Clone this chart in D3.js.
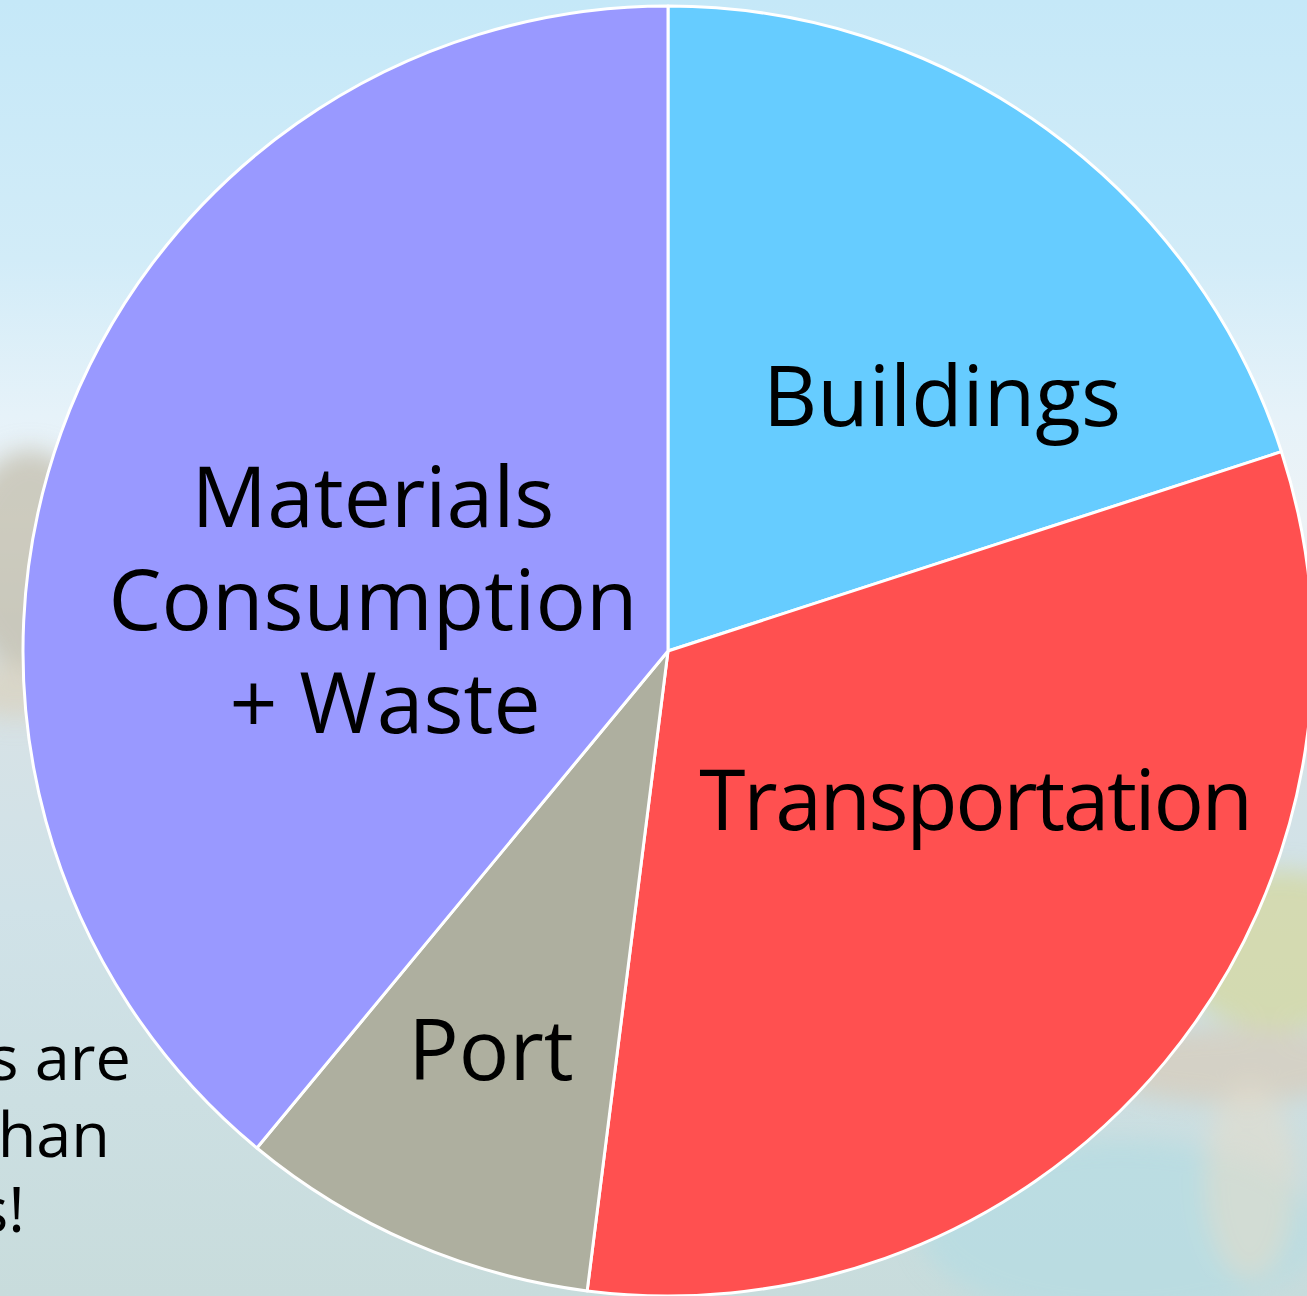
<!DOCTYPE html>
<html>
<head>
<meta charset="utf-8">
<script src="https://cdn.jsdelivr.net/npm/d3@7"></script>
<style>
html,body{margin:0;padding:0;overflow:hidden;}
svg{display:block;}
</style>
</head>
<body>
<svg id="chart" width="1307" height="1296"></svg>
<script>
const categories = ["Buildings", "Transportation", "Port", "Materials Consumption + Waste"];
const values = [20, 32, 9, 39];
const colors = ["#66CCFF", "#FF5050", "#AEAF9F", "#9999FF"];
const labelLines = [["Buildings"], ["Transportation"], ["Port"], ["Materials", "Consumption", "+ Waste"]];
const sideText = ["s are", "han", "s!"];

const W = 1307, H = 1296;
const svg = d3.select("#chart");
const defs = svg.append("defs");

// background: soft sky / city / water photo impression
const g1 = defs.append("linearGradient").attr("id","bg").attr("x1",0).attr("y1",0).attr("x2",0).attr("y2",1);
[[0,"#C5E8F8"],[0.2,"#D2ECF8"],[0.32,"#E6F2F9"],[0.4,"#EDF3F6"],[0.48,"#DCE6EA"],[0.56,"#D6E2E6"],[0.7,"#D0E2E8"],[1,"#C8DCDC"]]
  .forEach(([o,c]) => g1.append("stop").attr("offset",o).attr("stop-color",c));
svg.append("rect").attr("width",W).attr("height",H).attr("fill","url(#bg)");

const blur = defs.append("filter").attr("id","blur").attr("x","-50%").attr("y","-50%").attr("width","200%").attr("height","200%");
blur.append("feGaussianBlur").attr("stdDeviation",12);
const bgLayer = svg.append("g").attr("filter","url(#blur)");
// left city band
bgLayer.append("ellipse").attr("cx",30).attr("cy",560).attr("rx",70).attr("ry",110).attr("fill","#C4C0B0").attr("opacity",0.8);
bgLayer.append("ellipse").attr("cx",15).attr("cy",690).attr("rx",50).attr("ry",28).attr("fill","#D8D0BC").attr("opacity",0.7);
// right shore / green band
bgLayer.append("ellipse").attr("cx",1280).attr("cy",950).attr("rx",110).attr("ry",80).attr("fill","#D4D8A4").attr("opacity",0.8);
bgLayer.append("ellipse").attr("cx",1230).attr("cy",1065).attr("rx",140).attr("ry",38).attr("fill","#D6CDBE").attr("opacity",0.8);
// water on right bottom
bgLayer.append("ellipse").attr("cx",1120).attr("cy",1230).attr("rx",200).attr("ry",90).attr("fill","#B6DCE2").attr("opacity",0.8);
bgLayer.append("ellipse").attr("cx",1250).attr("cy",1180).attr("rx",45).attr("ry",100).attr("fill","#E2DCCC").attr("opacity",0.6);

const cx = 668, cy = 651, R = 645;
const pie = d3.pie().sort(null).value(d => d.value).startAngle(0).endAngle(2*Math.PI);
const data = categories.map((c,i) => ({name:c, value:values[i], color:colors[i], lines:labelLines[i]}));
const arcs = pie(data);
const arc = d3.arc().innerRadius(0).outerRadius(R);

const g = svg.append("g").attr("transform",`translate(${cx},${cy})`);
g.selectAll("path.slice").data(arcs).join("path")
  .attr("class","slice")
  .attr("d",arc)
  .attr("fill",d => d.data.color)
  .attr("stroke","#FFFFFF")
  .attr("stroke-width",3)
  .attr("stroke-linejoin","round");

// label placement relative to pie centre
const labelPos = {
  "Buildings": [274, 396-cy, 0],
  "Transportation": [307, 800-cy, -2.4],
  "Port": [-177, 1050-cy, 0],
  "Materials Consumption + Waste": [-295, 600-cy, 0]
};
const fs = 84, lh = 103;
arcs.forEach(a => {
  const [lx, ly, ls] = labelPos[a.data.name];
  const n = a.data.lines.length;
  const t = g.append("text")
    .attr("x", lx).attr("y", ly)
    .attr("text-anchor","middle")
    .attr("font-family","'Open Sans', sans-serif")
    .attr("font-size", fs)
    .attr("letter-spacing", ls)
    .attr("fill","#000");
  a.data.lines.forEach((line,i) => {
    t.append("tspan")
      .attr("x", lx + (line.startsWith("+") ? 12 : 0))
      .attr("y", ly + (i - (n-1)/2)*lh + fs*0.357)
      .text(line);
  });
});

// partially visible side text (cut by the left edge)
const sideEnds = [131, 110, 25];
const sideBase = [1080, 1157, 1232];
sideText.forEach((s,i) => {
  svg.append("text")
    .attr("x", sideEnds[i]).attr("y", sideBase[i])
    .attr("text-anchor","end")
    .attr("font-family","'Open Sans', sans-serif")
    .attr("font-size", 63)
    .attr("fill","#000")
    .text(s);
});
</script>
</body>
</html>
